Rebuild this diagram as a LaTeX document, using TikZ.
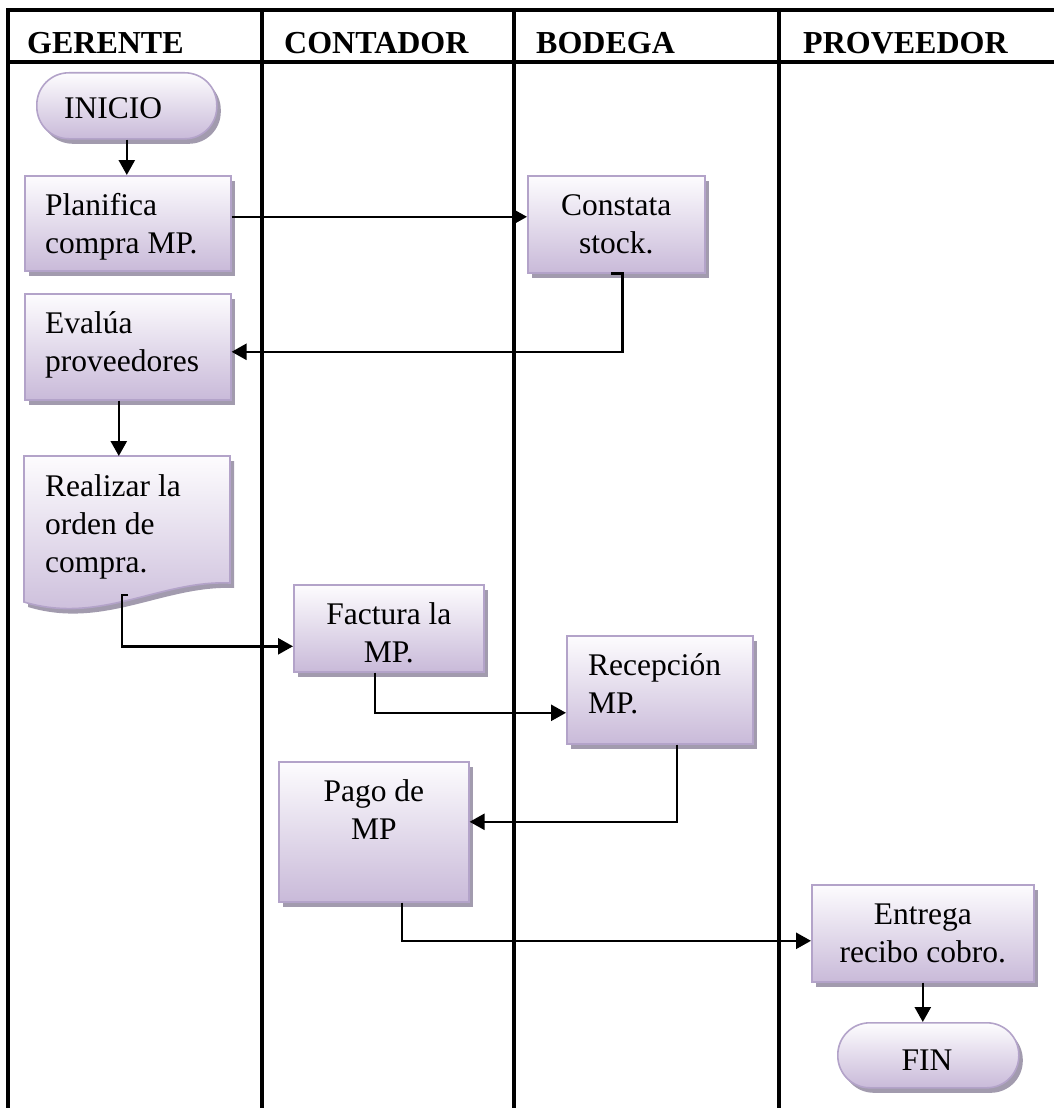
\documentclass[tikz,border=0pt]{standalone}
\usepackage{fontspec}
\setmainfont{Liberation Serif}
\usetikzlibrary{arrows.meta,shadows}

\definecolor{cardline}{HTML}{B3A3C9}
\definecolor{cardtop}{HTML}{FDFCFE}
\definecolor{cardbottom}{HTML}{C9BAD9}
\definecolor{cardshadow}{HTML}{A29BAE}

\newcommand\bodyfont{\fontsize{31.5}{38}\selectfont}
\newcommand\headfont{\fontsize{32}{38}\selectfont\bfseries}
% fixes the height of a box's first text line
\newcommand\lnstrut{\rule{0pt}{26pt}}

\begin{document}
\begin{tikzpicture}[x=1pt,y=-1pt,
  lane/.style={line width=4.4pt},
  flow/.style={line width=2.6pt,-{Triangle[length=15pt,width=16pt]}},
  cardbase/.style={draw=cardline,line width=1.6pt,top color=cardtop,bottom color=cardbottom,
    drop shadow={shadow xshift=4pt,shadow yshift=-5pt,fill=cardshadow,opacity=1}},
  card/.style={cardbase,rectangle,inner sep=0pt,anchor=north west},
  term/.style={card,rounded corners=32pt},
  cardtext/.style={font=\bodyfont,inner sep=0pt},
  lanehead/.style={font=\headfont,inner sep=0pt,anchor=base west}
]
\useasboundingbox (0,0) rectangle (1054,1108);

% swimlane grid
\draw[lane] (8,1108) -- (8,10) -- (1054,10);
\draw[lane] (8,62) -- (1054,62);
\draw[lane] (262,10) -- (262,1108);
\draw[lane] (514,10) -- (514,1108);
\draw[lane] (779,10) -- (779,1108);

% lane titles
\node[lanehead] (hger) at (27,53) {GERENTE};
\node[lanehead] (hcon) at (284,53) {CONTADOR};
\node[lanehead] (hbod) at (536,53) {BODEGA};
\node[lanehead] (hpro) at (803,53) {PROVEEDOR};

% process boxes
\node[term,minimum width=180pt,minimum height=66pt] (ini) at (36,72) {};
\node[card,minimum width=206pt,minimum height=95pt] (plan) at (24,175) {};
\node[card,minimum width=177pt,minimum height=97pt] (cons) at (527,175) {};
\node[card,minimum width=206pt,minimum height=106pt] (eval) at (24,293) {};
\path[cardbase] (24,456) -- (230,456) -- (230,583)
  .. controls (160,580) and (100,625) .. (24,602) -- cycle;
\node[card,minimum width=190pt,minimum height=87pt] (fact) at (293,584) {};
\node[card,minimum width=186pt,minimum height=108pt] (rec) at (566,635) {};
\node[card,minimum width=190pt,minimum height=140pt] (pago) at (278,761) {};
\node[card,minimum width=222pt,minimum height=97pt] (ent) at (811,884) {};
\node[term,minimum width=181pt,minimum height=65pt] (fin) at (837,1022) {};

% box texts
\node[cardtext,anchor=base west] (ini-t) at (64,118) {INICIO};
\node[cardtext,anchor=north west,align=left] (plan-t) at ([xshift=21pt,yshift=-14pt]plan.north west) {\lnstrut Planifica\\compra MP.};
\node[cardtext,anchor=north,align=center] (cons-t) at ([yshift=-14pt]cons.north) {\lnstrut Constata\\stock.};
\node[cardtext,anchor=north west,align=left] (eval-t) at ([xshift=21pt,yshift=-14pt]eval.north west) {\lnstrut Evalúa\\proveedores};
\node[cardtext,anchor=north west,align=left] (ord-t) at (45,470) {\lnstrut Realizar la\\orden de\\compra.};
\node[cardtext,anchor=north,align=center] (fact-t) at ([yshift=-14pt]fact.north) {\lnstrut Factura la\\MP.};
\node[cardtext,anchor=north west,align=left] (rec-t) at ([xshift=22pt,yshift=-14pt]rec.north west) {\lnstrut Recepción\\MP.};
\node[cardtext,anchor=north,align=center] (pago-t) at ([yshift=-14pt]pago.north) {\lnstrut Pago de\\MP};
\node[cardtext,anchor=north,align=center] (ent-t) at ([yshift=-14pt]ent.north) {\lnstrut Entrega\\recibo cobro.};
\node[cardtext,anchor=base] (fin-t) at (927,1070) {FIN};

% connector points
\coordinate (a1) at ([yshift=6.5pt]plan.east);
\coordinate (b0) at ([xshift=-5pt]cons.south);
\coordinate (b1) at ([xshift=6pt]cons.south);
\coordinate (b2) at ([yshift=-5pt]eval.east);
\coordinate (c0) at ([xshift=-9pt]eval.south);
\coordinate (ordtop) at (118,456);
\coordinate (ordout) at (128,595);
\coordinate (d1) at ([yshift=-18pt]fact.west);
\coordinate (e0) at ([xshift=-14pt]fact.south);
\coordinate (e1) at ([yshift=-23pt]rec.west);
\coordinate (f0) at ([xshift=17pt]rec.south);
\coordinate (f1) at ([yshift=10pt]pago.east);
\coordinate (g0) at ([xshift=28pt]pago.south);
\coordinate (g1) at ([yshift=-7.5pt]ent.west);

% flow
\draw[flow] (ini.south) -- (ini.south |- plan.north);
\draw[flow] (a1) -- (a1 -| cons.west);
\draw[flow] (b0) -- (b1) |- (b2);
\draw[flow] (c0) -- (c0 |- ordtop);
\draw[flow] (ordout) -- ++(-6,0) |- (d1);
\draw[flow] (e0) |- (e1);
\draw[flow] (f0) |- (f1);
\draw[flow] (g0) |- (g1);
\draw[flow] (ent.south) -- (ent.south |- fin.north);
\end{tikzpicture}
\end{document}
